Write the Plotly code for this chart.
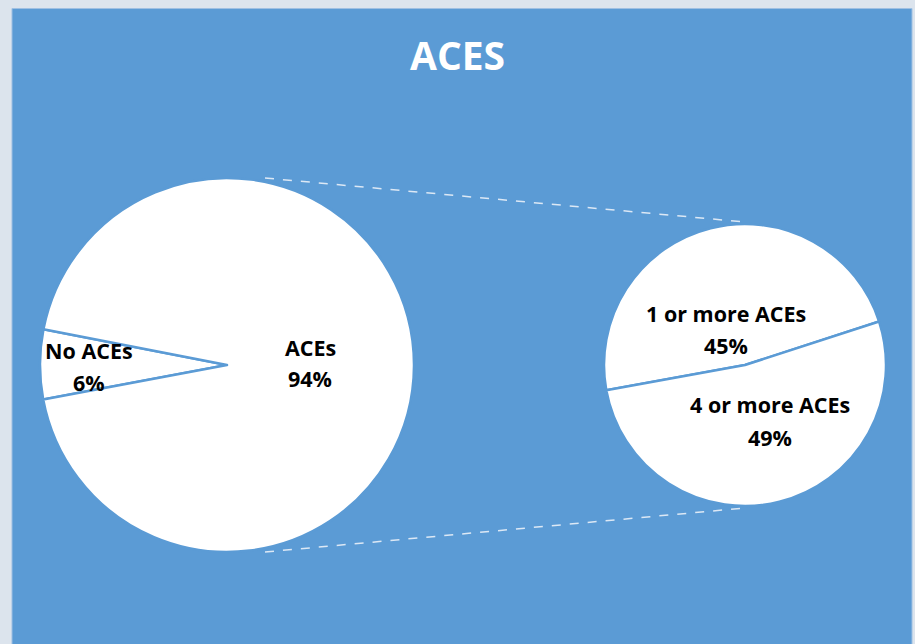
import plotly.graph_objects as go

title = "ACES"
main_labels = ["No ACEs", "ACEs"]
main_values = [6, 94]
sub_labels = ["1 or more ACEs", "4 or more ACEs"]
sub_values = [45, 49]

W, H = 915, 644
BLUE = "#5b9bd5"

# geometry (pixels from top-left)
L_CX, L_CY, L_R = 227, 365, 187
R_CX, R_CY, R_R = 745, 365, 141

def dom(cx, cy, r):
    return dict(x=[(cx - r) / W, (cx + r) / W],
                y=[(H - cy - r) / H, (H - cy + r) / H])

fig = go.Figure()
fig.add_trace(go.Pie(
    labels=main_labels, values=main_values, sort=False, direction="clockwise",
    rotation=259.4, textinfo="none", hoverinfo="label+percent",
    marker=dict(colors=["white", "white"], line=dict(color=BLUE, width=2.5)),
    domain=dom(L_CX, L_CY, L_R), showlegend=False,
))
fig.add_trace(go.Pie(
    labels=sub_labels, values=sub_values, sort=False, direction="clockwise",
    rotation=259.7, textinfo="none", hoverinfo="label+value",
    marker=dict(colors=["white", "white"], line=dict(color=BLUE, width=2.5)),
    domain=dom(R_CX, R_CY, R_R), showlegend=False,
))

def px(x):
    return x / W

def py(y):
    return (H - y) / H

shapes = [
    dict(type="rect", xref="paper", yref="paper", x0=px(12), x1=px(912), y0=-0.01, y1=py(8.5),
         fillcolor=BLUE, line=dict(color="#9ebfe2", width=1), layer="below"),
    dict(type="line", xref="paper", yref="paper", x0=px(L_CX + 38), y0=py(L_CY - L_R),
         x1=px(R_CX), y1=py(R_CY - R_R - 2), line=dict(color="#dce8f5", width=1.5, dash="dash")),
    dict(type="line", xref="paper", yref="paper", x0=px(L_CX + 38), y0=py(L_CY + L_R),
         x1=px(R_CX), y1=py(R_CY + R_R + 2), line=dict(color="#dce8f5", width=1.5, dash="dash")),
]

FONT = "Open Sans"
label_pos = {
    "No ACEs": (89, 350),
    "ACEs": (310, 347),
    "1 or more ACEs": (726, 313),
    "4 or more ACEs": (770, 405),
}
annotations = [dict(text="<b>%s</b>" % title, x=0.5, y=py(55), xref="paper", yref="paper",
                    showarrow=False, font=dict(family=FONT, size=39, color="white"),
                    xanchor="center", yanchor="middle")]
allvals = dict(zip(main_labels + sub_labels, main_values + sub_values))
for lab, (x, y) in label_pos.items():
    annotations.append(dict(text="<b>%s</b>" % lab, x=px(x), y=py(y), xref="paper", yref="paper",
                            showarrow=False, font=dict(family=FONT, size=21.5, color="black"),
                            xanchor="center", yanchor="middle"))
    annotations.append(dict(text="<b>%d%%</b>" % allvals[lab], x=px(x), y=py(y + 32), xref="paper",
                            yref="paper", showarrow=False,
                            font=dict(family=FONT, size=21.5, color="black"),
                            xanchor="center", yanchor="middle"))

fig.update_layout(
    width=W, height=H, margin=dict(l=0, r=0, t=0, b=0),
    paper_bgcolor="#dce4ed", plot_bgcolor="#dce4ed",
    shapes=shapes, annotations=annotations,
)
fig.write_html("out.html")
